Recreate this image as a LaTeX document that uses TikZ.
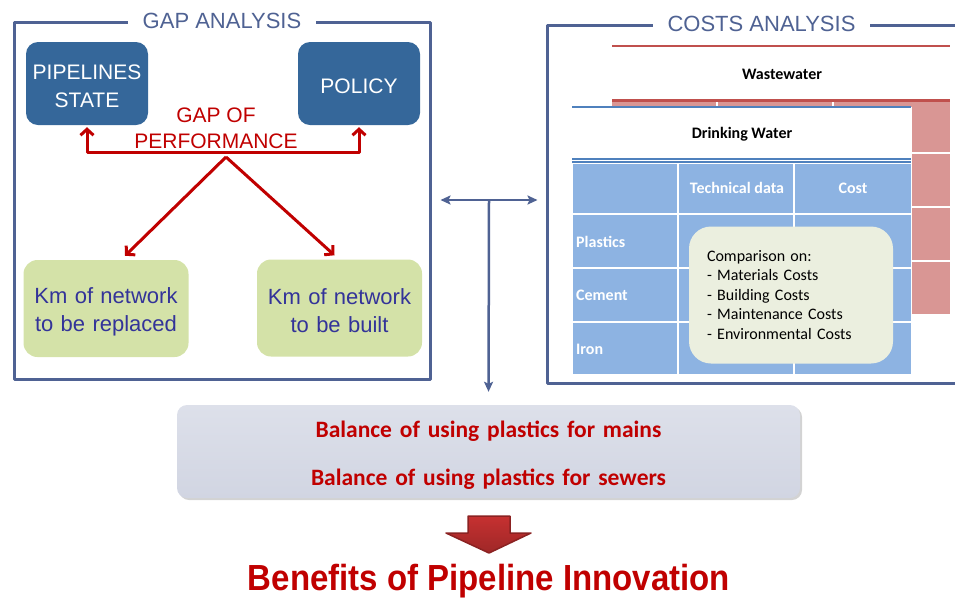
\documentclass[tikz,border=0pt]{standalone}
\usepackage{fontspec}
\setmainfont{Liberation Sans}
\newfontfamily\calibri{Carlito}
\usetikzlibrary{arrows.meta,calc,shadows}
\definecolor{framebl}{HTML}{4F6293}
\definecolor{boxbl}{HTML}{35679A}
\definecolor{gapred}{HTML}{C00000}
\definecolor{kmgreen}{HTML}{D4E2A8}
\definecolor{kmtext}{HTML}{333399}
\definecolor{cellbl}{HTML}{8DB3E2}
\definecolor{cellpk}{HTML}{D99694}
\definecolor{wwred}{HTML}{C0504D}
\definecolor{dwblue}{HTML}{4F81BD}
\definecolor{cmpbg}{HTML}{EBEFDF}
\definecolor{baltop}{HTML}{DDE0EA}
\definecolor{balbot}{HTML}{D1D5E2}
\definecolor{arrowred}{HTML}{C63131}
\def\barb{Straight Barb[length=6pt,width=13pt]}
\def\tip{Stealth[length=10pt,width=9pt,inset=2pt]}
\tikzset{
  anaframe/.style={draw=framebl,line width=3pt,inner sep=0pt},
  frametitle/.style={fill=white,text=framebl,inner xsep=15pt,inner ysep=1pt,
    font=\fontsize{22}{26}\selectfont},
  source/.style={rectangle,rounded corners=12pt,fill=boxbl,text=white,
    minimum width=122pt,minimum height=83pt,inner sep=0pt,
    text width=122pt,align=center,text height=21pt,
    font=\fontsize{21}{28}\selectfont},
  km/.style={rectangle,rounded corners=14pt,fill=kmgreen,text=kmtext,
    minimum width=165pt,minimum height=97pt,inner sep=0pt,
    text width=165pt,align=center,text height=22pt,
    font=\fontsize{22}{28}\selectfont},
  gaparrow/.style={draw=gapred,line width=3pt,-{\barb}},
  linkarrow/.style={draw=framebl,line width=2.5pt,-{\tip}},
  tabtitle/.style={inner sep=0pt,font=\calibri\bfseries\fontsize{16}{19}\selectfont},
  cellhead/.style={tabtitle,text=white},
  cmpbox/.style={rectangle,rounded corners=22pt,fill=cmpbg,
    minimum width=204pt,minimum height=137pt,inner xsep=18pt,
    text width=168pt,align=left,
    font=\calibri\fontsize{16}{19.5}\selectfont},
  balancebox/.style={rectangle,rounded corners=10pt,
    top color=baltop,bottom color=balbot,
    drop shadow={shadow xshift=2pt,shadow yshift=-2pt,opacity=0.35},
    minimum width=623pt,minimum height=93pt,inner sep=0pt,
    text width=623pt,align=center,text height=24pt,
    text=gapred,font=\calibri\bfseries\fontsize{23.5}{48}\selectfont}
}

\begin{document}
\begin{tikzpicture}[x=1pt,y=-1pt,line join=round]
\useasboundingbox (0,0) rectangle (955,598);
\clip (0,0) rectangle (955,598);

% gap analysis
\node[anaframe,minimum width=416pt,minimum height=357pt] (gapframe) at (222,200.5) {};
\node[frametitle] (gaptitle) at (gapframe.north) {GAP ANALYSIS};
\node[source] (state) at (87,83.5) {PIPELINES\\STATE};
\node[source] (policy) at (359,83.5) {POLICY};
\node[text=gapred,align=center,inner sep=0pt,font=\fontsize{21}{26}\selectfont]
  (gap) at (216,128.5) {GAP OF\\PERFORMANCE};
\node[km] (replaced) at (106,308.5) {Km of network\\to be replaced};
\node[km] (built) at (339.5,308) {Km of network\\to be built};
\draw[gaparrow,{\barb}-{\barb},shorten <=2pt,shorten >=2pt]
  (state.south) -- ++(0,27) -| (policy.south);
\coordinate (split) at (226,157);
\draw[gaparrow] (split) -- ($(replaced.north)+(19,-4)$);
\draw[gaparrow] (split) -- ($(built.north)+(-5,-4)$);

% costs analysis
\node[anaframe,minimum width=453pt,minimum height=358pt] (costframe) at (773.5,204) {};
\node[frametitle] (coststitle) at ($(costframe.north west)+(216,0)$) {COSTS ANALYSIS};
% wastewater sheet, behind
\fill[cellpk] (612,102) rectangle (950,314);
\foreach \y in {153,207,261}
  \draw[white,line width=2pt] (612,\y) -- (950,\y);
\foreach \x in {717,833}
  \draw[white,line width=2pt] (\x,102) -- (\x,107);
\draw[wwred,line width=1.5pt] (612,46) -- (950,46);
\draw[wwred,line width=3pt] (612,100.5) -- (950,100.5);
\node[tabtitle] (wwtitle) at (782,74) {Wastewater};
% drinking water sheet, in front
\fill[white] (572,106.5) rectangle (912,375);
\draw[dwblue,line width=1.5pt] (572,107) -- (911,107);
\draw[dwblue,line width=1.2pt] (572,159) -- (911,159) (572,162) -- (911,162);
\fill[cellbl] (573,163.5) rectangle (911,374);
\foreach \x in {678,794}
  \draw[white,line width=2.5pt] (\x,163) -- (\x,374);
\foreach \y in {214,268,322}
  \draw[white,line width=2.5pt] (573,\y) -- (911,\y);
\node[tabtitle] (dwtitle) at (742,134) {Drinking Water};
\node[cellhead] (techhead) at (737,188) {Technical data};
\node[cellhead] (costhead) at (853,188) {Cost};
\foreach \name/\y in {Plastics/242,Cement/295,Iron/349}
  \node[cellhead,anchor=west] (\name) at (576,\y) {\name};
\node[cmpbox] (compare) at (791,295)
  {Comparison on:\\- Materials Costs\\- Building Costs\\- Maintenance Costs\\- Environmental Costs};

% balance and result
\node[balancebox] (balance) at (488.5,451.5)
  {Balance of using plastics for mains\\Balance of using plastics for sewers};
\coordinate (link) at (489,200);
\draw[linkarrow,{\tip}-{\tip},shorten <=9pt,shorten >=8pt]
  (gapframe.east |- link) -- (costframe.west |- link);
\draw[linkarrow,shorten >=13pt] (link) -- (balance.north);

\shade[top color=arrowred,bottom color=arrowred!80!black,draw=arrowred!70!black,line width=1.5pt]
  (468,516) -- (510,516) -- (510,533) -- (531,533) -- (489,553)
  -- (446,533) -- (468,533) -- cycle;
\node[text=gapred,inner sep=0pt,font=\bfseries\fontsize{33}{36}\selectfont]
  (benefits) at (489,581) {\scalebox{1}[1.1]{Benefits of Pipeline Innovation}};
\end{tikzpicture}
\end{document}
